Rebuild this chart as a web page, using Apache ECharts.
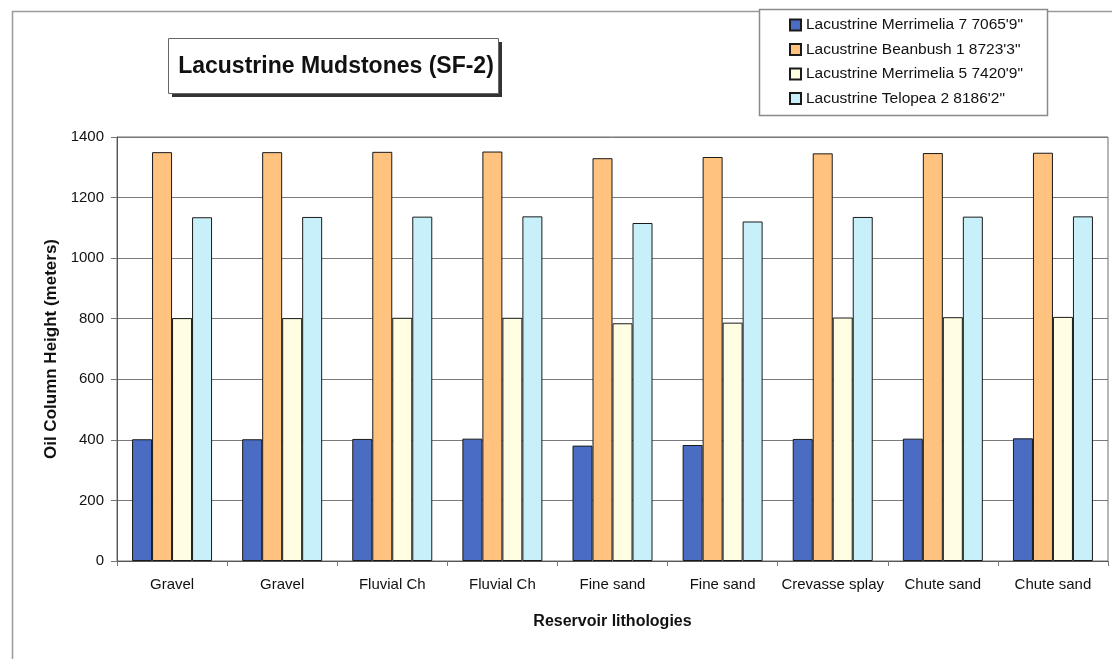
<!DOCTYPE html>
<html>
<head>
<meta charset="utf-8">
<script src="https://cdn.jsdelivr.net/npm/echarts@6/dist/echarts.min.js"></script>
<style>
  html, body { margin: 0; padding: 0; background: #fff; }
  #chart { width: 1112px; height: 659px; }
</style>
</head>
<body>
<div id="chart"></div>
<script>
// Reservoir lithologies along the category axis
const categories = ['Gravel', 'Gravel', 'Fluvial Ch', 'Fluvial Ch', 'Fine sand', 'Fine sand', 'Crevasse splay', 'Chute sand', 'Chute sand'];

// Oil column height (meters) per source rock
const seriesNames = [
  'Lacustrine Merrimelia 7 7065\'9"',
  'Lacustrine Beanbush 1 8723\'3"',
  'Lacustrine Merrimelia 5 7420\'9"',
  'Lacustrine Telopea 2 8186\'2"'
];
const merrimelia7 = [402, 402, 403, 404, 381, 383, 403, 404, 405];
const beanbush1   = [1350, 1350, 1351, 1352, 1330, 1334, 1346, 1347, 1348];
const merrimelia5 = [802, 802, 803, 803, 785, 787, 804, 805, 806];
const telopea2    = [1135, 1136, 1137, 1138, 1116, 1121, 1136, 1137, 1138];

const yTicks = [0, 200, 400, 600, 800, 1000, 1200, 1400];

const colors = ['#4a6dc3', '#ffc27f', '#fffde2', '#c8f0fa'];
const FONT = '"Liberation Sans", Arial, sans-serif';

const chart = echarts.init(document.getElementById('chart'), null, { renderer: 'canvas' });

const values = [merrimelia7, beanbush1, merrimelia5, telopea2];
const series = values.map((data, i) => ({
  name: seriesNames[i],
  type: 'bar',
  data: data,
  barWidth: 20,
  barGap: '0%',
  itemStyle: { color: colors[i], borderColor: '#1a1a1a', borderWidth: 1 },
  emphasis: { disabled: true }
}));

chart.setOption({
  animation: false,
  backgroundColor: '#ffffff',
  grid: {
    left: 117, right: 4, top: 137, bottom: 98,
    show: true, borderColor: '#6e6e6e', borderWidth: 1
  },
  legend: {
    orient: 'vertical',
    left: 784, top: 12,
    icon: 'rect',
    itemWidth: 11, itemHeight: 11, itemGap: 8.5,
    textStyle: { fontFamily: FONT, fontSize: 15.5, color: '#111' },
    data: seriesNames
  },
  xAxis: {
    type: 'category',
    data: categories,
    axisLine: { lineStyle: { color: '#555', width: 1 } },
    axisTick: { show: true, length: 5, lineStyle: { color: '#777' } },
    axisLabel: { margin: 16, fontFamily: FONT, fontSize: 15, color: '#111', interval: 0 },
    name: 'Reservoir lithologies',
    nameLocation: 'middle',
    nameGap: 53,
    nameTextStyle: { fontFamily: FONT, fontSize: 16, fontWeight: 'bold', color: '#111' }
  },
  yAxis: {
    type: 'value',
    min: yTicks[0],
    max: yTicks[yTicks.length - 1],
    interval: yTicks[1] - yTicks[0],
    axisLine: { show: true, lineStyle: { color: '#555', width: 1 } },
    axisTick: { show: true, length: 6, lineStyle: { color: '#777' } },
    axisLabel: { margin: 13, fontFamily: FONT, fontSize: 15, color: '#111', formatter: v => String(v) },
    splitLine: { show: true, lineStyle: { color: '#7a7a7a', width: 1 } },
    name: 'Oil Column Height (meters)',
    nameLocation: 'middle',
    nameGap: 50,
    nameRotate: 90,
    nameTextStyle: { fontFamily: FONT, fontSize: 17, fontWeight: 'bold', color: '#111' }
  },
  graphic: [
    // outer frame of the chart area
    { type: 'rect', z: -10, shape: { x: 12.5, y: 11.5, width: 1200, height: 700 },
      style: { fill: '#fff', stroke: '#9a9a9a', lineWidth: 1.5 } },
    // legend frame
    { type: 'rect', z: -5, shape: { x: 759.5, y: 9.5, width: 288, height: 106 },
      style: { fill: '#fff', stroke: '#8a8a8a', lineWidth: 1.5 } },
    // title box with drop shadow
    { type: 'rect', z: 1, shape: { x: 172, y: 42, width: 330, height: 55 },
      style: { fill: '#333' } },
    { type: 'rect', z: 2, shape: { x: 168.5, y: 38.5, width: 330, height: 55 },
      style: { fill: '#fff', stroke: '#666', lineWidth: 1 } },
    { type: 'text', z: 3, x: 336, y: 67,
      style: { text: 'Lacustrine Mudstones (SF-2)', fontFamily: FONT, fontSize: 23, fontWeight: 'bold',
               fill: '#111', textAlign: 'center', textVerticalAlign: 'middle' } }
  ],
  series: series
});
</script>
</body>
</html>
